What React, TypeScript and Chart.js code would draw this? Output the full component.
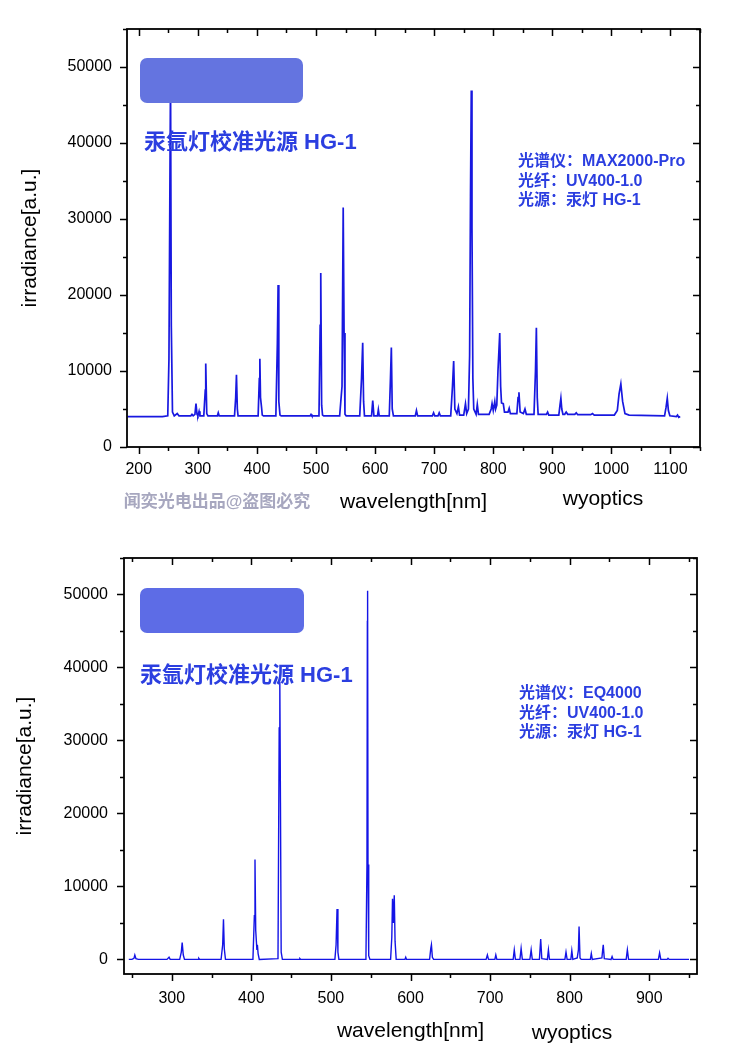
import React, { useEffect, useRef } from 'react';
import { Chart, registerables } from 'chart.js';

Chart.register(...registerables);

// ---------- data: spectrum 1 (MAX2000-Pro) ----------
const wl1 = [
  181, 240, 249, 251, 252.5, 253.7, 255, 257, 260, 265, 268, 288, 290, 292, 295, 296.8, 298.5, 300, 302, 303.5,
  310, 312.5, 313.3, 315, 317, 333, 334.5, 336, 362, 364, 365.3, 366.8, 368, 402, 404, 404.9, 406, 407.8, 409, 411,
  432, 434.5, 435.8, 437, 439, 441, 490, 491.5, 493, 505, 507, 508, 509.5, 511, 513, 540, 544, 546, 547.5, 549, 551,
  574, 577, 579, 580.5, 582, 594, 596, 598, 604, 605.5, 607, 624, 626, 627.5, 629, 631, 668, 670, 672, 697, 699, 701,
  706.5, 708.5, 710.5, 728, 731, 733, 735, 738.5, 741, 743, 750, 753, 755, 758, 760, 761.5, 762.8, 764, 765.5, 767,
  771, 773, 775, 793, 796.5, 798, 800, 802.6, 804, 806, 808, 811, 812.5, 814, 817, 819, 825, 827, 829, 840, 842,
  843.5, 845.5, 851, 853.7, 856, 869, 871.5, 873, 874.5, 876, 890, 892, 894, 911, 913, 914.5, 916, 918, 921, 923.5,
  926, 938, 940.5, 943, 965, 968, 971, 1005, 1010, 1013, 1016, 1019, 1023, 1030, 1090, 1092.5, 1094.6, 1096.5, 1099,
  1110, 1112, 1114, 1116.5,
];
const irr1 = [
  4000, 4000, 4100, 11500, 32500, 49000, 16000, 4600, 4100, 4400, 4100, 4100, 4300, 4100, 4300, 5700, 4300, 4100, 4700, 4100,
  4100, 7500, 11000, 4400, 4100, 4100, 4500, 4100, 4100, 6500, 9500, 5000, 4100, 4100, 9000, 11600, 6500, 5200, 4200, 4100,
  4100, 13500, 21300, 6000, 4200, 4100, 4100, 4300, 4100, 4100, 16000, 22900, 5500, 4200, 4100, 4100, 8000, 31500, 15000, 4300, 4100,
  4100, 9000, 13700, 6000, 4100, 4100, 6100, 4100, 4100, 4900, 4100, 4100, 9000, 13100, 5000, 4100, 4100, 4800, 4100, 4100, 4500, 4100,
  4100, 4500, 4100, 4100, 8000, 11300, 5000, 4400, 5300, 4200, 4200, 5700, 4400, 5000, 12000, 33000, 46900, 29000, 9000, 5000,
  4300, 5600, 4300, 4300, 5000, 5700, 4800, 6000, 5000, 5500, 10000, 15000, 8000, 5800, 5700, 4600, 4600, 5100, 4400, 4400, 6500,
  7200, 4600, 4400, 5000, 4300, 4300, 10000, 15700, 6500, 4300, 4300, 4600, 4200, 4200, 5500, 6400, 5000, 4300, 4300, 4600,
  4300, 4300, 4500, 4250, 4250, 4400, 4200, 4200, 4800, 7000, 8300, 6000, 4400, 4200, 4100, 5200, 6400, 4800, 4100,
  4000, 4200, 3900, 4000,
];

// ---------- data: spectrum 2 (EQ4000) ----------
const wl2 = [
  246, 250, 252.5, 253.6, 255, 258, 294, 296.6, 298, 310, 312, 313.1, 314.5, 316, 333, 334, 335, 362, 364, 365, 366, 367.5,
  402, 403.8, 404.6, 405.5, 407, 407.6, 408.5, 410, 433.5, 435, 435.8, 436.6, 437.5, 439, 460, 461, 462, 505, 506.5, 507.7,
  508.8, 510, 544, 545.3, 545.8, 546.1, 546.6, 547.5, 549, 575, 576.5, 577.4, 578.4, 579.6, 580.6, 582, 593, 594, 595, 624,
  625.5, 626.3, 627.5, 629, 695, 696.6, 698, 706, 707.2, 708.5, 729, 730.4, 731.8, 737.5, 739, 740.5, 750, 751.6, 753, 762,
  763.6, 765, 772, 773.3, 774.6, 794, 795.4, 796.8, 801.5, 802.7, 804, 809.5, 811, 811.8, 813, 814.5, 826, 827.2, 828.4,
  840.5, 841.5, 842.2, 843.5, 852, 853.3, 854.6, 871, 872.5, 874, 911.5, 913, 914.5, 922.5, 923.6, 925, 950,
];
const irr2 = [
  0, 0, 150, 600, 100, 0, 0, 300, 0, 0, 1000, 2300, 600, 0, 0, 150, 0, 0, 2000, 5500, 1500, 0,
  0, 6000, 13700, 4000, 1300, 2000, 800, 0, 100, 31700, 38000, 21500, 1000, 0, 0, 120, 0, 0, 2000, 6900,
  1000, 0, 0, 13000, 46300, 50500, 13000, 500, 0, 0, 3000, 8300, 5000, 8800, 2500, 0, 0, 300, 0, 0,
  1500, 2000, 300, 0, 0, 600, 0, 0, 600, 0, 0, 1300, 0, 0, 1500, 0, 0, 1300, 0, 0,
  2800, 100, 0, 1300, 0, 0, 1000, 0, 0, 1200, 0, 200, 1300, 4500, 200, 0, 0, 800, 0,
  200, 1300, 2000, 100, 0, 400, 0, 0, 1300, 0, 0, 900, 0, 0, 150, 0, 0,
];

// ---------- ticks and texts ----------
const xTicks1 = [200, 300, 400, 500, 600, 700, 800, 900, 1000, 1100];
const xTicks2 = [300, 400, 500, 600, 700, 800, 900];
const yTicks = [0, 10000, 20000, 30000, 40000, 50000];
const titleText = '汞氩灯校准光源 HG-1';
const info1 = ['光谱仪：MAX2000-Pro', '光纤：UV400-1.0', '光源：汞灯 HG-1'];
const info2 = ['光谱仪：EQ4000', '光纤：UV400-1.0', '光源：汞灯 HG-1'];
const xTitle = 'wavelength[nm]';
const yTitle = 'irradiance[a.u.]';
const brandText = 'wyoptics';
const markText = '闻奕光电出品@盗图必究';

const FONT = "'Liberation Sans', Arial, 'Noto Sans CJK SC', sans-serif";
const W = 750;
const H = 528;

type Spec = {
  wl: number[];
  irr: number[];
  xTicks: number[];
  xMin: number;
  xMax: number;
  yMin: number;
  yMax: number;
  left: number;
  right: number;
  top: number;
  bottom: number;
  lineColor: string;
  lineWidth: number;
  yLabelPad: number;
  xLabelPad: number;
  yTitlePad: number;
  xTitlePad: number;
  rect: [number, number, number, number];
  rectColor: string;
  titleY: number;
  titleX: number;
  info: string[];
  infoX: number;
  infoY: number;
  brandX: number;
  brandY: number;
  mark: boolean;
};

const spec1: Spec = {
  wl: wl1, irr: irr1, xTicks: xTicks1, xMin: 180, xMax: 1150, yMin: 0, yMax: 55000,
  left: 127, right: 700, top: 29, bottom: 447,
  lineColor: '#1818e0', lineWidth: 1.7, yLabelPad: 15, xLabelPad: 13, yTitlePad: 18, xTitlePad: 13,
  rect: [140, 58, 163, 45], rectColor: '#6474e0', titleX: 144, titleY: 143,
  info: info1, infoX: 518, infoY: 162, brandX: 603, brandY: 499, mark: true,
};
const spec2: Spec = {
  wl: wl2, irr: irr2, xTicks: xTicks2, xMin: 240, xMax: 960, yMin: -2000, yMax: 55000,
  left: 124, right: 697, top: 30, bottom: 446,
  lineColor: '#1414e6', lineWidth: 1.4, yLabelPad: 16, xLabelPad: 15, yTitlePad: 13, xTitlePad: 12,
  rect: [140, 60, 164, 45], rectColor: '#5d6ce6', titleX: 140, titleY: 148,
  info: info2, infoX: 519, infoY: 166, brandX: 572, brandY: 505, mark: false,
};

function SpectrumChart({ spec }: { spec: Spec }) {
  const ref = useRef<HTMLCanvasElement>(null);
  useEffect(() => {
    const canvas = ref.current;
    if (!canvas) return;
    const overlay = {
      id: 'overlay',
      afterDatasetsDraw(chart: any) {
        const ctx = chart.ctx as CanvasRenderingContext2D;
        const xs = chart.scales.x;
        const ys = chart.scales.y;
        const { left, right, top, bottom } = chart.chartArea;
        ctx.save();
        ctx.strokeStyle = '#000';
        ctx.lineWidth = 1.8;
        ctx.strokeRect(left, top, right - left, bottom - top);
        ctx.lineWidth = 1.5;
        ctx.beginPath();
        // x ticks (major + minor at 50 nm)
        const xStart = Math.ceil(spec.xMin / 50) * 50;
        for (let v = xStart; v <= spec.xMax; v += 50) {
          const px = Math.round(xs.getPixelForValue(v)) + 0.5;
          const len = v % 100 === 0 ? 7 : 4;
          ctx.moveTo(px, bottom);
          ctx.lineTo(px, bottom + len);
          ctx.moveTo(px, top);
          ctx.lineTo(px, top + len);
        }
        // y ticks (major + minor at 5000)
        for (let v = 0; v <= spec.yMax; v += 5000) {
          const py = Math.round(ys.getPixelForValue(v)) + 0.5;
          const len = v % 10000 === 0 ? 7 : 4;
          ctx.moveTo(left, py);
          ctx.lineTo(left - len, py);
          ctx.moveTo(right, py);
          ctx.lineTo(right - len, py);
        }
        ctx.stroke();

        // rounded box
        const [rx, ry, rw, rh] = spec.rect;
        ctx.fillStyle = spec.rectColor;
        ctx.beginPath();
        (ctx as any).roundRect(rx, ry, rw, rh, 7);
        ctx.fill();

        // title
        ctx.fillStyle = '#2b3ee0';
        ctx.textBaseline = 'middle';
        ctx.textAlign = 'left';
        ctx.font = `bold 22px ${FONT}`;
        ctx.fillText(titleText, spec.titleX, spec.titleY);

        // info lines
        ctx.font = `bold 16px ${FONT}`;
        spec.info.forEach((t, i) => ctx.fillText(t, spec.infoX, spec.infoY + i * 19.5));

        // brand
        ctx.fillStyle = '#000';
        ctx.textAlign = 'center';
        ctx.font = `21px ${FONT}`;
        ctx.fillText(brandText, spec.brandX, spec.brandY);

        if (spec.mark) {
          ctx.fillStyle = '#a7a7bf';
          ctx.font = `bold 17px ${FONT}`;
          ctx.fillText(markText, 217, 502);
        }
        ctx.restore();
      },
    };

    const chart = new Chart(canvas, {
      type: 'line',
      data: {
        datasets: [
          {
            data: spec.wl.map((x, i) => ({ x, y: spec.irr[i] })),
            borderColor: spec.lineColor,
            borderWidth: spec.lineWidth,
            pointRadius: 0,
            tension: 0,
            fill: false,
          },
        ],
      },
      options: {
        responsive: false,
        animation: false,
        devicePixelRatio: 1,
        layout: { padding: { left: 0, top: spec.top, right: W - spec.right, bottom: 0 } },
        plugins: { legend: { display: false }, tooltip: { enabled: false } },
        scales: {
          x: {
            type: 'linear',
            min: spec.xMin,
            max: spec.xMax,
            grid: { display: false, drawTicks: false },
            border: { display: false },
            afterBuildTicks: (s: any) => {
              s.ticks = spec.xTicks.map((v) => ({ value: v }));
            },
            afterFit: (s: any) => {
              s.height = H - spec.bottom;
            },
            ticks: {
              font: { family: FONT, size: 16 },
              color: '#000',
              padding: spec.xLabelPad,
              maxRotation: 0,
              autoSkip: false,
              callback: (v: any) => String(v),
            },
            title: {
              display: true,
              text: xTitle,
              color: '#000',
              font: { family: FONT, size: 21 },
              padding: { top: 0, bottom: spec.xTitlePad },
            },
          },
          y: {
            type: 'linear',
            min: spec.yMin,
            max: spec.yMax,
            grid: { display: false, drawTicks: false },
            border: { display: false },
            afterBuildTicks: (s: any) => {
              s.ticks = yTicks.map((v) => ({ value: v }));
            },
            afterFit: (s: any) => {
              s.width = spec.left;
            },
            ticks: {
              font: { family: FONT, size: 16 },
              color: '#000',
              padding: spec.yLabelPad,
              autoSkip: false,
              callback: (v: any) => String(v),
            },
            title: {
              display: true,
              text: yTitle,
              color: '#000',
              font: { family: FONT, size: 21 },
              padding: { top: spec.yTitlePad, bottom: 0 },
            },
          },
        },
      },
      plugins: [overlay],
    } as any);
    return () => chart.destroy();
  }, [spec]);
  return <canvas ref={ref} width={W} height={H} style={{ display: 'block', width: W, height: H }} />;
}

export default function App() {
  return (
    <div style={{ position: 'absolute', left: 0, top: 0, width: W, height: 2 * H, background: '#fff' }}>
      <SpectrumChart spec={spec1} />
      <SpectrumChart spec={spec2} />
    </div>
  );
}
